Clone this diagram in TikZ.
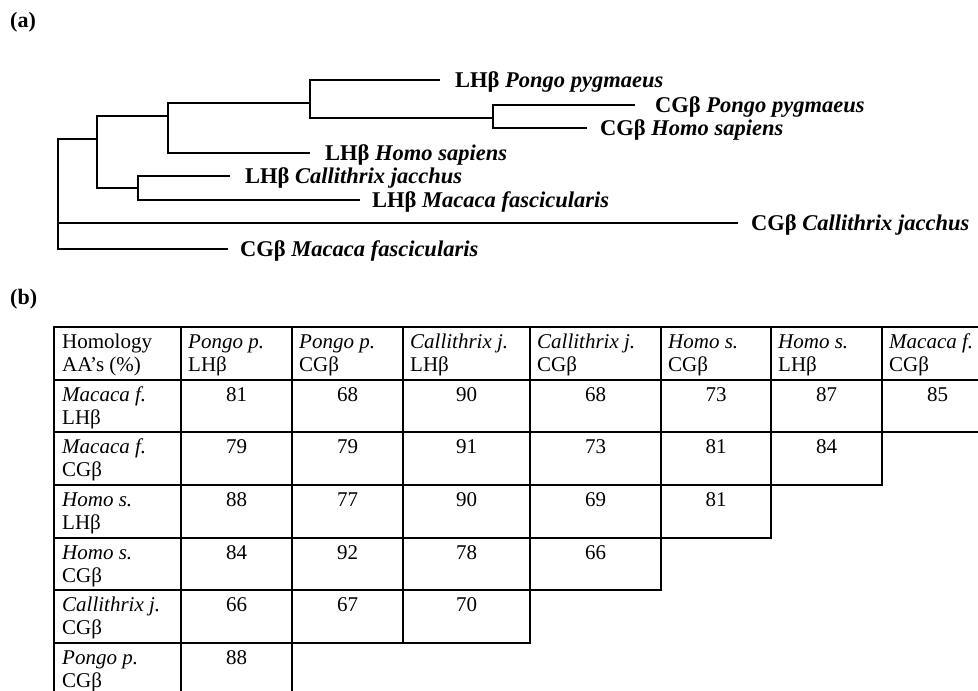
\documentclass[tikz,border=0pt]{standalone}
\usepackage{fontspec}
\setmainfont{Liberation Serif}
\begin{document}
\begin{tikzpicture}[x=1pt,y=-1pt,
  tree/.style={line width=2.8pt},
  leaf/.style={anchor=west,inner ysep=0pt,text height=14.5pt,text depth=0pt,font=\fontsize{22.5}{26}\selectfont\bfseries},
  grid/.style={line width=2pt},
  cell/.style={anchor=base west,inner sep=0pt,font=\fontsize{21}{24}\selectfont},
  num/.style={anchor=base,inner sep=0pt,font=\fontsize{21}{24}\selectfont},
  panel/.style={anchor=base west,inner sep=0pt,font=\fontsize{22}{26}\selectfont\bfseries}]
\useasboundingbox (0,0) rectangle (978,691);
\clip (0,0) rectangle (978,691);

% panel labels
\node[panel] (pa) at (10,27) {(a)};
\node[panel] (pb) at (10,304) {(b)};

% tree leaves
\node[leaf,inner xsep=15pt] (lpp) at (440,80) {LHβ \textit{Pongo pygmaeus}};
\node[leaf,inner xsep=20pt] (cpp) at (635,105) {CGβ \textit{Pongo pygmaeus}};
\node[leaf,inner xsep=13pt] (chs) at (587,128) {CGβ \textit{Homo sapiens}};
\node[leaf,inner xsep=15pt] (lhs) at (310,153) {LHβ \textit{Homo sapiens}};
\node[leaf,inner xsep=15pt] (lcj) at (230,176) {LHβ \textit{Callithrix jacchus}};
\node[leaf,inner xsep=12pt] (lmf) at (360,200) {LHβ \textit{Macaca fascicularis}};
\node[leaf,inner xsep=13pt] (ccj) at (738,223) {CGβ \textit{Callithrix jacchus}};
\node[leaf,inner xsep=12pt] (cmf) at (228,249) {CGβ \textit{Macaca fascicularis}};

% internal nodes
\coordinate (r) at (58,194);
\coordinate (n2) at (97,139);
\coordinate (n3) at (168,116);
\coordinate (n4) at (310,103);
\coordinate (n5) at (493,118);
\coordinate (n6) at (138,188);

\draw[tree] (lpp.west) -| (n4) |- (n5);
\draw[tree] (cpp.west) -| (n5) |- (chs.west);
\draw[tree] (n4) -| (n3) |- (lhs.west);
\draw[tree] (n3) -| (n2) |- (n6);
\draw[tree] (lcj.west) -| (n6) |- (lmf.west);
\draw[tree] (n2) -| (r) |- (cmf.west);
\draw[tree] (r) |- (ccj.west);

% table grid
\foreach \t/\b/\r in {327/380/993, 380/432/993, 432/485/882, 485/538/771, 538/590/661, 590/643/530, 643/700/292}
  \draw[grid] (54,\t) rectangle (\r,\b);
\foreach \x/\b in {181/700, 292/700, 403/643, 530/643, 661/590, 771/538, 882/485}
  \draw[grid] (\x,327) -- (\x,\b);

% header
\node[cell] (h0a) at (62,348) {Homology};
\node[cell] (h0b) at (62,371) {AA’s (\%)};
\foreach \i/\x/\sp/\ty in {1/188/Pongo p./LHβ, 2/299/Pongo p./CGβ, 3/410/Callithrix j./LHβ, 4/537/Callithrix j./CGβ, 5/668/Homo s./CGβ, 6/778/Homo s./LHβ, 7/889/Macaca f./CGβ} {
  \node[cell] (hs\i) at (\x,348) {\textit{\sp}};
  \node[cell] (ht\i) at (\x,371) {\ty};
}

% row labels
\foreach \j/\y/\sp/\ty in {1/380/Macaca f./LHβ, 2/432/Macaca f./CGβ, 3/485/Homo s./LHβ, 4/538/Homo s./CGβ, 5/590/Callithrix j./CGβ, 6/643/Pongo p./CGβ} {
  \node[cell] (rs\j) at (62,\y+21) {\textit{\sp}};
  \node[cell] (rt\j) at (62,\y+44) {\ty};
}

% values
\foreach \x/\v [count=\k] in {236.5/81,347.5/68,466.5/90,595.5/68,716/73,826.5/87,937.5/85}
  \node[num] (va\k) at (\x,401) {\v};
\foreach \x/\v [count=\k] in {236.5/79,347.5/79,466.5/91,595.5/73,716/81,826.5/84}
  \node[num] (vb\k) at (\x,453) {\v};
\foreach \x/\v [count=\k] in {236.5/88,347.5/77,466.5/90,595.5/69,716/81}
  \node[num] (vc\k) at (\x,506) {\v};
\foreach \x/\v [count=\k] in {236.5/84,347.5/92,466.5/78,595.5/66}
  \node[num] (vd\k) at (\x,559) {\v};
\foreach \x/\v [count=\k] in {236.5/66,347.5/67,466.5/70}
  \node[num] (ve\k) at (\x,611) {\v};
\node[num] (vf1) at (236.5,664) {88};
\end{tikzpicture}
\end{document}
